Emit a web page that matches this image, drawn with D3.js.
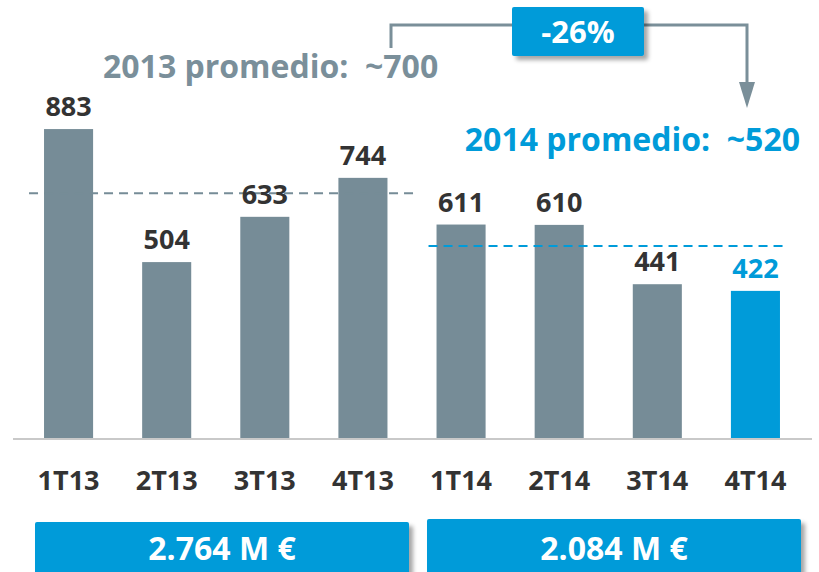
<!DOCTYPE html>
<html>
<head>
<meta charset="utf-8">
<script src="https://cdn.jsdelivr.net/npm/d3@7"></script>
<style>
  body { margin: 0; background: #fff; }
  svg text { font-family: "Open Sans", "Noto Sans", sans-serif; font-weight: bold; white-space: pre; }
</style>
</head>
<body>
<svg id="chart" width="819" height="572"></svg>
<script>
// data
const quarters = ["1T13", "2T13", "3T13", "4T13", "1T14", "2T14", "3T14", "4T14"];
const values = [883, 504, 633, 744, 611, 610, 441, 422];
const highlight = "4T14";
const avgTexts = ["2013 promedio:  ~700", "2014 promedio:  ~520"];
const avgLevels = [700, 550];   // where the dashed lines sit in the picture
const yearQuarters = [["1T13", "4T13"], ["1T14", "4T14"]];
const totals = ["2.764 M €", "2.084 M €"];
const change = "-26%";

const grey = "#768c97", blue = "#009bd9", dark = "#333333";

let chart = d3.select("#chart");

let defs = chart.append("defs");
defs.append("filter").attr("id", "shadow")
    .attr("x", "-10%").attr("y", "-20%").attr("width", "130%").attr("height", "160%")
  .append("feDropShadow")
    .attr("dx", 4).attr("dy", 4).attr("stdDeviation", 2)
    .attr("flood-color", "#000").attr("flood-opacity", 0.35);

let xScale = d3.scaleBand()
    .domain(quarters)
    .range([19.5, 804.5])
    .paddingInner(0.5)
    .paddingOuter(0.25);

let yScale = d3.scaleLinear()
    .domain([0, 1000])
    .range([439, 88]);

// bars
chart.selectAll("rect.bar")
    .data(quarters).enter()
        .append("rect")
            .attr("class", "bar")
            .attr("x", d => xScale(d))
            .attr("y", (d, i) => yScale(values[i]))
            .attr("width", xScale.bandwidth())
            .attr("height", (d, i) => yScale(0) - yScale(values[i]))
            .attr("fill", d => d == highlight ? blue : grey);

// baseline
chart.append("line")
    .attr("x1", 13).attr("x2", 812)
    .attr("y1", yScale(0)).attr("y2", yScale(0))
    .attr("stroke", "#c9c9c9").attr("stroke-width", 2);

// category labels
let xAxis = chart.append("g")
    .attr("transform", "translate(0," + yScale(0) + ")")
    .call(d3.axisBottom(xScale).tickSize(0));
xAxis.select(".domain").remove();
xAxis.selectAll("text")
    .attr("y", 51).attr("dy", null)
    .attr("font-size", 27)
    .attr("font-family", null)
    .attr("fill", dark);

// dashed average lines
let lineColors = [grey, blue];
let lineExtents = [[-15, 27], [-8, 3]];
avgLevels.forEach((v, i) => {
    chart.append("line")
        .attr("x1", xScale(yearQuarters[i][0]) + lineExtents[i][0])
        .attr("x2", xScale(yearQuarters[i][1]) + xScale.bandwidth() + lineExtents[i][1])
        .attr("y1", yScale(v)).attr("y2", yScale(v))
        .attr("stroke", lineColors[i])
        .attr("stroke-width", 2)
        .attr("stroke-dasharray", "9,6");
});

// value labels
chart.selectAll("text.val")
    .data(quarters).enter()
        .append("text")
            .attr("class", "val")
            .attr("x", d => xScale(d) + xScale.bandwidth() / 2)
            .attr("y", (d, i) => yScale(values[i]) - 13)
            .attr("text-anchor", "middle")
            .attr("font-size", 27)
            .attr("fill", d => d == highlight ? blue : dark)
            .text((d, i) => values[i]);

// average captions
chart.append("text")
    .text(avgTexts[0])
    .attr("x", 103).attr("y", 78)
    .attr("font-size", 32)
    .attr("fill", "#7a8f9a");

chart.append("text")
    .text(avgTexts[1])
    .attr("x", 800).attr("y", 151)
    .attr("text-anchor", "end")
    .attr("font-size", 32)
    .attr("fill", blue);

// bracket with arrow
chart.append("path")
    .attr("d", "M391,48 V25 H747 V86")
    .attr("fill", "none")
    .attr("stroke", "#7a8f99")
    .attr("stroke-width", 3);
chart.append("path")
    .attr("d", "M739,82 L755,82 L747,108 Z")
    .attr("fill", "#7a8f99");

// change box
chart.append("rect")
    .attr("x", 512).attr("y", 7)
    .attr("width", 132).attr("height", 49)
    .attr("rx", 2)
    .attr("fill", blue)
    .attr("filter", "url(#shadow)");
chart.append("text")
    .text(change)
    .attr("x", 578).attr("y", 43)
    .attr("text-anchor", "middle")
    .attr("font-size", 31)
    .attr("fill", "#fff");

// total boxes
let boxes = [{x: 35, y: 522}, {x: 427, y: 519}];
boxes.forEach((b, i) => {
    chart.append("rect")
        .attr("x", b.x).attr("y", b.y)
        .attr("width", 374).attr("height", 80)
        .attr("rx", 2)
        .attr("fill", blue)
        .attr("filter", "url(#shadow)");
    chart.append("text")
        .text(totals[i])
        .attr("x", b.x + 187).attr("y", 560)
        .attr("text-anchor", "middle")
        .attr("font-size", 32)
        .attr("fill", "#fff");
});
</script>
</body>
</html>
